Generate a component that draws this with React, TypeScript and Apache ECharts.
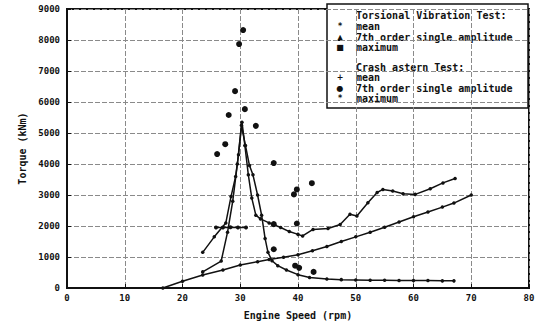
import React, { useEffect, useRef } from "react";
import * as echarts from "echarts";

// Torsional Vibration Test: mean torque (straight propeller line)
const tvMeanSpeed = [16.6, 20, 23.5, 27, 30, 33, 35, 37.5, 40, 42.5, 45, 47.5, 50, 52.5, 55, 57.5, 60, 62.5, 65, 67, 70];
const tvMeanTorque = [0, 220, 420, 580, 740, 850, 920, 990, 1070, 1200, 1340, 1500, 1650, 1800, 1960, 2130, 2300, 2450, 2610, 2740, 3000];

// Torsional Vibration Test: 7th order single amplitude
const tv7Speed = [23.5, 26.7, 27.8, 28.7, 29.5, 30.2, 30.9, 31.6, 32.2, 33.0, 33.7, 34.3, 34.8, 35.5, 36.5, 38, 40, 42, 45, 47.5, 50, 52.5, 55, 57.5, 60, 62.5, 65, 67];
const tv7Torque = [520, 870, 1800, 2800, 4000, 5250, 4600, 3950, 3650, 3000, 2350, 1600, 1150, 880, 720, 580, 430, 340, 290, 270, 260, 250, 250, 240, 240, 240, 230, 230];

// Torsional Vibration Test: maximum
const tvMaxSpeed = [23.5, 25.5, 27.5, 28.4, 29.2, 29.7, 30.3, 30.8, 31.4, 32.0, 32.7, 33.5, 35, 37, 38.5, 40, 40.8, 42.6, 45.2, 47.3, 49, 50.2, 52.1, 53.7, 54.7, 56.4, 58.2, 60.3, 62.9, 65.1, 67.2];
const tvMaxTorque = [1150, 1650, 2100, 2950, 3600, 4300, 5350, 4600, 3650, 2900, 2350, 2230, 2100, 1950, 1820, 1730, 1680, 1890, 1920, 2050, 2380, 2320, 2750, 3080, 3180, 3130, 3040, 3020, 3200, 3390, 3530];

// Crash astern Test
const caMeanSpeed = [25.8, 27, 28.3, 29.6, 31];
const caMeanTorque = [1950, 1950, 1960, 1950, 1950];
const ca7Speed = [35.8, 39.5, 40.2, 42.7, 35.8, 39.8];
const ca7Torque = [1250, 720, 650, 520, 2060, 2080];
const caMaxSpeed = [26, 27.4, 28, 29.1, 29.8, 30.5, 30.8, 32.7, 35.8, 39.3, 39.8, 42.4];
const caMaxTorque = [4320, 4640, 5580, 6350, 7870, 8320, 5770, 5230, 4030, 3020, 3180, 3380];

const legendTitles = ["Torsional Vibration Test:", "Crash astern Test:"];
const legendItems = ["mean", "7th order single amplitude", "maximum"];

const zip = (xs: number[], ys: number[]) => xs.map((x, i) => [x, ys[i]]);

const FONT = "DejaVu Sans Mono";

export default function App() {
  const ref = useRef<HTMLDivElement>(null);
  useEffect(() => {
    if (!ref.current) return;
    const chart = echarts.init(ref.current, null, { renderer: "svg" });
    const lineCommon = {
      type: "line" as const,
      symbol: "circle",
      symbolSize: 3.5,
      lineStyle: { color: "#111", width: 1.5 },
      itemStyle: { color: "#111", opacity: 1 },
      z: 3,
    };
    const legendMarkers = ["*", "▲", "■", "+", "●", "*"];
    const lx = 340;
    const tx = 356;
    const ys = [15, 26, 37, 47.5, 67, 77.5, 88, 98];
    const legendChildren: any[] = [
      {
        type: "rect",
        shape: { x: 327, y: 4, width: 201, height: 104 },
        style: { fill: "#fff", stroke: "#111", lineWidth: 1.5 },
      },
    ];
    const rows: { text: string; marker?: string }[] = [
      { text: legendTitles[0] },
      ...legendItems.map((t, i) => ({ text: t, marker: legendMarkers[i] })),
      { text: legendTitles[1] },
      ...legendItems.map((t, i) => ({ text: t, marker: legendMarkers[i + 3] })),
    ];
    rows.forEach((r, i) => {
      legendChildren.push({
        type: "text",
        x: tx,
        y: ys[i],
        style: {
          text: r.text,
          font: `bold 10px "${FONT}"`,
          fill: "#111",
          verticalAlign: "middle",
          align: "left",
        },
      });
      if (r.marker) {
        legendChildren.push({
          type: "text",
          x: lx,
          y: ys[i],
          style: {
            text: r.marker,
            font: `bold 8px "DejaVu Sans"`,
            fill: "#111",
            verticalAlign: "middle",
            align: "center",
          },
        });
      }
    });

    chart.setOption({
      animation: false,
      backgroundColor: "#fff",
      grid: {
        left: 67,
        right: 11,
        top: 9,
        bottom: 33,
        show: true,
        borderColor: "#111",
        borderWidth: 2,
      },
      xAxis: {
        type: "value",
        min: 0,
        max: 80,
        interval: 10,
        name: "Engine Speed (rpm)",
        nameLocation: "middle",
        nameGap: 22,
        nameTextStyle: { fontFamily: FONT, fontWeight: "bold", fontSize: 10, color: "#111" },
        axisLine: { lineStyle: { color: "#111", width: 2 } },
        axisTick: { inside: true, length: 4, lineStyle: { color: "#111" } },
        axisLabel: { fontFamily: FONT, fontWeight: "bold", fontSize: 9, color: "#111", margin: 5 },
        splitLine: { show: true, lineStyle: { color: "#8a8a8a", width: 1, type: [5, 2] } },
      },
      yAxis: {
        type: "value",
        min: 0,
        max: 9000,
        interval: 1000,
        name: "Torque (kNm)",
        nameLocation: "middle",
        nameGap: 40,
        nameRotate: 90,
        nameTextStyle: { fontFamily: FONT, fontWeight: "bold", fontSize: 10, color: "#111" },
        axisLine: { lineStyle: { color: "#111", width: 2 } },
        axisTick: { inside: true, length: 4, lineStyle: { color: "#111" } },
        axisLabel: {
          fontFamily: FONT,
          fontWeight: "bold",
          fontSize: 9,
          color: "#111",
          margin: 7,
          formatter: (v: number) => String(v),
        },
        splitLine: { show: true, lineStyle: { color: "#8a8a8a", width: 1, type: [5, 2] } },
      },
      series: [
        { ...lineCommon, name: "tv mean", data: zip(tvMeanSpeed, tvMeanTorque) },
        { ...lineCommon, name: "tv 7th", data: zip(tv7Speed, tv7Torque) },
        { ...lineCommon, name: "tv max", data: zip(tvMaxSpeed, tvMaxTorque) },
        { ...lineCommon, name: "ca mean", symbol: "circle", symbolSize: 4, data: zip(caMeanSpeed, caMeanTorque) },
        {
          type: "scatter",
          name: "ca 7th",
          symbol: "circle",
          symbolSize: 6,
          itemStyle: { color: "#111", opacity: 1 },
          data: zip(ca7Speed, ca7Torque),
          z: 4,
        },
        {
          type: "scatter",
          name: "ca max",
          symbol: "circle",
          symbolSize: 6,
          itemStyle: { color: "#111", opacity: 1 },
          data: zip(caMaxSpeed, caMaxTorque),
          z: 4,
        },
      ],
      graphic: [{ type: "group", z: 100, children: legendChildren }],
    });
    return () => chart.dispose();
  }, []);
  return (
    <div
      ref={ref}
      style={{ position: "fixed", left: 0, top: 0, width: 540, height: 325, background: "#fff" }}
    />
  );
}
